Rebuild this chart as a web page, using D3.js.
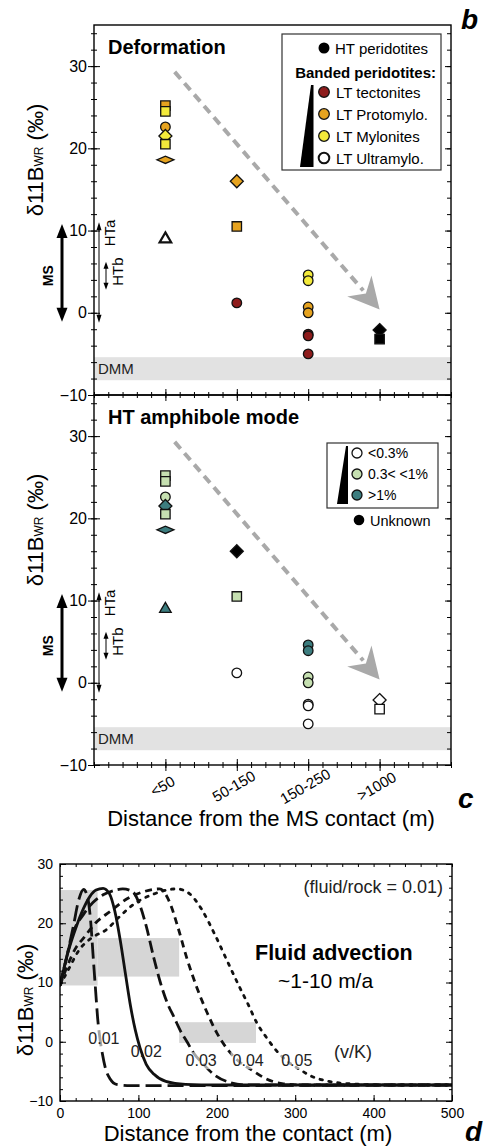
<!DOCTYPE html>
<html>
<head>
<meta charset="utf-8">
<script src="https://cdn.jsdelivr.net/npm/d3@7"></script>
<style>
  body { margin: 0; background: #fff; }
  svg { display: block; font-family: "Liberation Sans", Arial, Helvetica, sans-serif; }
</style>
</head>
<body>
<svg id="fig" width="488" height="1148"></svg>
<script>
// ---- data ----
const categories = ["<50", "50-150", "150-250", ">1000"];
const catPos = [1, 2, 3, 4];
const yTicks = [-10, 0, 10, 20, 30];

const deformNames = ["HT peridotites", "LT tectonites", "LT Protomylo.", "LT Mylonites", "LT Ultramylo."];
const deformColors = ["#000000", "#8e1c1c", "#e6a31f", "#f3ea3b", "#ffffff"];
const amphNames = ["<0.3%", "0.3< <1%", ">1%", "Unknown"];
const amphColors = ["#ffffff", "#c6e0b1", "#3c7d7f", "#000000"];

// one entry per sample (same samples in panels b and c)
const sampleCat    = [0, 0, 0, 0, 0, 0, 0, 1, 1, 1, 2, 2, 2, 2, 2, 2, 2, 3, 3];
const sampleD11B   = [25.2, 24.5, 22.6, 21.5, 20.5, 18.6, 9.1, 16.0, 10.5, 1.2, 4.6, 3.9, 0.7, 0.0, -2.6, -2.8, -5.0, -2.1, -3.2];
const sampleShape  = ["square", "square", "circle", "diamond", "square", "flat", "triangle",
                      "diamond", "square", "circle",
                      "circle", "circle", "circle", "circle", "circle", "circle", "circle",
                      "diamond", "square"];
const sampleDeform = [2, 3, 2, 3, 3, 2, 4, 2, 2, 1, 3, 3, 2, 2, 1, 1, 1, 0, 0];
const sampleAmph   = [1, 1, 1, 2, 1, 2, 2, 3, 1, 0, 2, 2, 1, 1, 0, 0, 0, 0, 0];

const dmmRange = [-8.2, -5.4];
const trendStart = [1.13, 29.3];
const trendEnd = [4.0, 0.4];
const msArrow = [-1.1, 10.8];
const htaArrow = [-1.2, 11.0];
const htbArrow = [2.8, 6.2];

// panel d: model curves (distance m, d11B)
const vkLabels = ["0.01", "0.02", "0.03", "0.04", "0.05"];
const curve001 = [[0, 9.5], [8, 14], [17, 19.5], [24, 24], [30, 25.7], [35, 24.5], [39, 20.5], [42.5, 14], [45.5, 8.5], [48, 4], [51, 0.5], [54, -2], [58, -4.5], [64, -6.3], [72, -7.2], [90, -7.4], [500, -7.3]];
const curve002 = [[0, 9.5], [10, 15], [21, 19.5], [30, 22.5], [38, 24.5], [46, 25.6], [55, 25.9], [63, 25], [70, 22], [77, 17], [84, 11], [90, 6], [96, 2], [102, -1], [110, -3.8], [120, -5.5], [135, -6.7], [160, -7.2], [200, -7.3], [500, -7.3]];
const curve003 = [[0, 9.5], [8, 14], [17, 18.5], [30, 21.5], [42, 23.5], [55, 24.8], [68, 25.5], [80, 25.8], [92, 25.4], [102, 23], [110, 19.5], [119, 14.5], [128, 10], [137, 6.5], [146, 4], [153, 2], [162, 0], [170, -1.8], [183, -3.8], [196, -5.5], [215, -6.8], [240, -7.3], [500, -7.3]];
const curve004 = [[0, 9.5], [10, 13], [20, 15.8], [30, 17.5], [45, 20], [64, 22], [85, 24.1], [106, 25.3], [127, 25.8], [140, 23.5], [150, 19.5], [162, 14], [175, 9], [188, 4.8], [200, 1.5], [212, -1], [228, -3.3], [245, -4.8], [262, -6.2], [285, -7.1], [310, -7.3], [500, -7.3]];
const curve005 = [[0, 9.5], [10, 12], [25, 15.6], [40, 17.5], [60, 19], [75, 21], [94, 23.2], [119, 24.9], [149, 25.8], [165, 25], [180, 22.5], [196, 18.5], [212, 14], [228, 9.5], [240, 6.3], [251, 3.2], [264, 0.6], [276, -1.5], [290, -3.3], [306, -4.7], [322, -5.9], [340, -6.6], [370, -7.1], [420, -7.3], [500, -7.3]];
const curves = [curve001, curve002, curve003, curve004, curve005];
const curveDash = ["16,6", null, "12,5", "7,5", "2.5,6.5"];
const labelPos = [[56, 0.6], [110, -1.5], [180, -3.1], [240, -3.1], [302, -3.1]];

const boxX0 = [0, 48, 152];
const boxX1 = [48, 152, 250];
const boxLow = [9.5, 11, -0.2];
const boxHigh = [25.6, 17.5, 3.3];

const svg = d3.select("#fig");
const minus = d => d < 0 ? "\u2212" + Math.abs(d) : String(d);

function shapePath(s) {
    switch (s) {
        case "circle": return "M4.8,0A4.8,4.8,0,1,1,-4.8,0A4.8,4.8,0,1,1,4.8,0Z";
        case "square": return "M-4.7,-4.7H4.7V4.7H-4.7Z";
        case "diamond": return "M0,-6.5L6.5,0L0,6.5L-6.5,0Z";
        case "flat": return "M-8.5,0L0,-3.6L8.5,0L0,3.6Z";
        case "triangle": return "M0,-5.6L5.8,4.4L-5.8,4.4Z";
    }
}

function ticks(parent, axisGen, scale, values, size, fmt, padding) {
    const a = axisGen(scale).tickValues(values).tickSize(size)
        .tickPadding(padding || 2).tickFormat(fmt || (() => ""));
    const g = parent.append("g").call(a);
    g.select(".domain").remove();
    g.attr("font-family", null).attr("font-size", null);
    return g;
}

function yLabel(bx, cy) {
    const t = svg.append("text")
        .attr("transform", `translate(${bx},${cy}) rotate(-90)`)
        .attr("text-anchor", "middle")
        .attr("font-size", 22);
    t.append("tspan").text("\u03B411B");
    t.append("tspan").attr("font-size", 12).text("WR");
    t.append("tspan").text(" (\u2030)");
}

function vArrow(x, y0, y1, shaft, headW, headL) {
    const g = svg.append("g").attr("fill", "#000").attr("stroke", "#000");
    g.append("line").attr("x1", x).attr("x2", x)
        .attr("y1", y1 + headL - 1).attr("y2", y0 - headL + 1)
        .attr("stroke-width", shaft);
    g.append("path").attr("stroke", "none")
        .attr("d", `M${x},${y1}L${x + headW / 2},${y1 + headL}L${x - headW / 2},${y1 + headL}Z`);
    g.append("path").attr("stroke", "none")
        .attr("d", `M${x},${y0}L${x + headW / 2},${y0 - headL}L${x - headW / 2},${y0 - headL}Z`);
}

// ---- panels b and c ----
function scatterPanel(top, bottom, colorOf, title, showCatLabels) {
    const x = d3.scaleLinear().domain([0, 5]).range([94, 451]);
    const y = d3.scaleLinear().domain([-10, 35]).range([bottom, top]);
    const g = svg.append("g");

    // DMM band
    g.append("rect")
        .attr("x", x(0)).attr("width", x(5) - x(0))
        .attr("y", y(dmmRange[1])).attr("height", y(dmmRange[0]) - y(dmmRange[1]))
        .attr("fill", "#e2e2e2");
    g.append("text").attr("x", 98).attr("y", y((dmmRange[0] + dmmRange[1]) / 2) + 5.5)
        .attr("font-size", 15).attr("fill", "#222").text("DMM");

    // trend arrow
    const p0 = [x(trendStart[0]), y(trendStart[1])], p1 = [x(trendEnd[0]), y(trendEnd[1])];
    const dx = p1[0] - p0[0], dy = p1[1] - p0[1], L = Math.hypot(dx, dy);
    const ux = dx / L, uy = dy / L;
    const headLen = 31, halfW = 16, notch = 21;
    const bx = p1[0] - ux * headLen, by = p1[1] - uy * headLen;
    const nx = p1[0] - ux * notch, ny = p1[1] - uy * notch;
    g.append("line")
        .attr("x1", p0[0]).attr("y1", p0[1]).attr("x2", nx - ux * 4).attr("y2", ny - uy * 4)
        .attr("stroke", "#a9a9a9").attr("stroke-width", 4).attr("stroke-dasharray", "9,6");
    g.append("path")
        .attr("d", `M${p1[0]},${p1[1]}L${bx - uy * halfW},${by + ux * halfW}L${nx},${ny}L${bx + uy * halfW},${by - ux * halfW}Z`)
        .attr("fill", "#a9a9a9");

    // points
    g.selectAll(".pt").data(sampleD11B).join("path")
        .attr("class", "pt")
        .attr("transform", (d, i) => `translate(${x(catPos[sampleCat[i]])},${y(d)})`)
        .attr("d", (d, i) => shapePath(sampleShape[i]))
        .attr("fill", (d, i) => colorOf(i))
        .attr("stroke", "#111")
        .attr("stroke-width", (d, i) => sampleShape[i] === "triangle" && colorOf(i) === "#ffffff" ? 2.2 : 1.3);

    // frame
    g.append("rect").attr("x", x(0)).attr("y", top).attr("width", x(5) - x(0)).attr("height", bottom - top)
        .attr("fill", "none").attr("stroke", "#000").attr("stroke-width", 1.4);

    // left axis: ticks crossing the line, labels outside
    const minorY = d3.range(-10, 35, 2);
    const left = g.append("g").attr("transform", `translate(${x(0)},0)`);
    ticks(left, d3.axisLeft, y, yTicks, 6, minus, 1)
        .attr("font-size", 16).selectAll("text").attr("fill", "#000");
    ticks(left, d3.axisRight, y, yTicks, 6);
    ticks(left, d3.axisLeft, y, minorY, 3);
    ticks(left, d3.axisRight, y, minorY, 3);
    const right = g.append("g").attr("transform", `translate(${x(5)},0)`);
    ticks(right, d3.axisLeft, y, yTicks, 6);
    ticks(right, d3.axisLeft, y, minorY, 4);

    // bottom axis
    const minorX = d3.range(0, 5.01, 0.2);
    const bot = g.append("g").attr("transform", `translate(0,${bottom})`);
    ticks(bot, d3.axisBottom, x, catPos, 6);
    ticks(bot, d3.axisTop, x, catPos, 6);
    ticks(bot, d3.axisBottom, x, minorX, 3);
    ticks(bot, d3.axisTop, x, minorX, 3);

    if (showCatLabels) {
        g.selectAll(".cat").data(categories).join("text")
            .attr("class", "cat")
            .attr("transform", (d, i) => `translate(${x(catPos[i]) - 3},${bottom + 21}) rotate(-30)`)
            .attr("text-anchor", "middle").attr("dominant-baseline", "central")
            .attr("font-size", 15).text(d => d);
    }

    // panel title
    g.append("text").attr("x", 108).attr("y", top + 29)
        .attr("font-size", 20).attr("font-weight", "bold").text(title);

    // MS / HTa / HTb annotations
    vArrow(62, y(msArrow[0]), y(msArrow[1]), 3, 11, 14);
    vArrow(99, y(htaArrow[0]), y(htaArrow[1]), 1, 5, 8);
    vArrow(106, y(htbArrow[0]), y(htbArrow[1]), 1, 5, 7);
    svg.append("text").attr("transform", `translate(53,${y(4.5)}) rotate(-90)`)
        .attr("text-anchor", "middle").attr("font-size", 14).attr("font-weight", "bold").text("MS");
    svg.append("text").attr("transform", `translate(115,${y(9.7)}) rotate(-90)`)
        .attr("text-anchor", "middle").attr("font-size", 15).text("HTa");
    svg.append("text").attr("transform", `translate(123,${y(5.0)}) rotate(-90)`)
        .attr("text-anchor", "middle").attr("font-size", 15).text("HTb");
    return {x, y};
}

scatterPanel(25, 395, i => deformColors[sampleDeform[i]], "Deformation", false);
scatterPanel(395, 765, i => amphColors[sampleAmph[i]], "HT amphibole mode", true);

yLabel(43, 160);
yLabel(43, 530);

svg.append("text").attr("x", 271).attr("y", 826).attr("text-anchor", "middle")
    .attr("font-size", 22).text("Distance from the MS contact (m)");

// ---- legend b ----
const legB = svg.append("g");
legB.append("rect").attr("x", 282).attr("y", 34).attr("width", 159).attr("height", 136)
    .attr("fill", "#fff").attr("stroke", "#333").attr("stroke-width", 1.2);
legB.append("circle").attr("cx", 324).attr("cy", 48).attr("r", 5.5).attr("fill", deformColors[0]);
legB.append("text").attr("x", 335).attr("y", 53.5).attr("font-size", 15).text(deformNames[0]);
legB.append("text").attr("x", 436).attr("y", 78).attr("text-anchor", "end")
    .attr("font-size", 15).attr("font-weight", "bold").text("Banded peridotites:");
legB.append("path").attr("d", "M311,85L313.5,85L313.5,167L300,167Z").attr("fill", "#000");
const legBy = [92, 114, 136, 158];
legBy.forEach((yy, k) => {
    legB.append("circle").attr("cx", 324).attr("cy", yy).attr("r", 5.3)
        .attr("fill", deformColors[k + 1]).attr("stroke", "#111").attr("stroke-width", k === 3 ? 2 : 1.3);
    legB.append("text").attr("x", 336).attr("y", yy + 5.5).attr("font-size", 15).text(deformNames[k + 1]);
});

// ---- legend c ----
const legC = svg.append("g");
legC.append("rect").attr("x", 327).attr("y", 443).attr("width", 111).attr("height", 65)
    .attr("fill", "#fff").attr("stroke", "#333").attr("stroke-width", 1.2);
legC.append("path").attr("d", "M346,446L348,446L348,504L337,504Z").attr("fill", "#000");
const legCy = [453, 474, 495];
legCy.forEach((yy, k) => {
    legC.append("circle").attr("cx", 357).attr("cy", yy).attr("r", 5)
        .attr("fill", amphColors[k]).attr("stroke", "#111").attr("stroke-width", 1.3);
    legC.append("text").attr("x", 368).attr("y", yy + 5).attr("font-size", 14).text(amphNames[k]);
});
legC.append("circle").attr("cx", 359).attr("cy", 520).attr("r", 5.3).attr("fill", amphColors[3]);
legC.append("text").attr("x", 370).attr("y", 525.5).attr("font-size", 14.5).text(amphNames[3]);

// panel letters
[["b", 461, 29], ["c", 458, 808], ["d", 465, 1141]].forEach(([t, px, py]) => {
    svg.append("text").attr("x", px).attr("y", py).attr("font-size", 28)
        .attr("font-weight", "bold").attr("font-style", "italic").text(t);
});

// ---- panel d ----
const xD = d3.scaleLinear().domain([0, 500]).range([60, 452]);
const yD = d3.scaleLinear().domain([-10, 30]).range([1101, 864]);
const gD = svg.append("g");

gD.selectAll(".box").data(boxX0).join("rect")
    .attr("class", "box")
    .attr("x", d => xD(d)).attr("width", (d, i) => xD(boxX1[i]) - xD(d))
    .attr("y", (d, i) => yD(boxHigh[i])).attr("height", (d, i) => yD(boxLow[i]) - yD(boxHigh[i]))
    .attr("fill", "#d6d6d6");

svg.append("defs").append("clipPath").attr("id", "clipD")
    .append("rect").attr("x", 60).attr("y", 864).attr("width", 392).attr("height", 237);

const line = d3.line().x(d => xD(d[0])).y(d => yD(d[1])).curve(d3.curveMonotoneX);
gD.append("g").attr("clip-path", "url(#clipD)")
    .selectAll("path").data(curves).join("path")
    .attr("d", line)
    .attr("fill", "none").attr("stroke", "#111").attr("stroke-width", 2.8)
    .attr("stroke-dasharray", (d, i) => curveDash[i])
    .attr("stroke-linecap", (d, i) => i === 4 ? "round" : "butt");

// v/K labels over translucent white
vkLabels.forEach((t, i) => {
    const tx = gD.append("text").attr("x", xD(labelPos[i][0])).attr("y", yD(labelPos[i][1]) + 6)
        .attr("text-anchor", "middle").attr("font-size", 16).attr("fill", "#222").text(t);
    const bb = tx.node().getBBox();
    if (i !== 1) {
        gD.insert("rect", () => tx.node())
            .attr("x", bb.x - 2).attr("y", bb.y).attr("width", bb.width + 4).attr("height", bb.height)
            .attr("fill", "#fff").attr("opacity", 0.62);
    }
});
gD.append("text").attr("x", 353).attr("y", 1058).attr("text-anchor", "middle")
    .attr("font-size", 18).attr("fill", "#222").text("(v/K)");
gD.append("text").attr("x", 443).attr("y", 893).attr("text-anchor", "end")
    .attr("font-size", 18).attr("fill", "#222").text("(fluid/rock = 0.01)");
gD.append("text").attr("x", 255).attr("y", 960)
    .attr("font-size", 21.5).attr("font-weight", "bold").text("Fluid advection");
gD.append("text").attr("x", 278).attr("y", 988)
    .attr("font-size", 21).text("~1-10 m/a");

gD.append("rect").attr("x", 60).attr("y", 864).attr("width", 392).attr("height", 237)
    .attr("fill", "none").attr("stroke", "#000").attr("stroke-width", 1.4);

const majorXD = d3.range(0, 501, 100), minorXD = d3.range(0, 501, 20);
const majorYD = [-10, 0, 10, 20, 30], minorYD = d3.range(-10, 31, 2);
const dl = gD.append("g").attr("transform", "translate(60,0)");
ticks(dl, d3.axisLeft, yD, majorYD, 0, minus, 7).attr("font-size", 14);
ticks(dl, d3.axisRight, yD, majorYD, 6);
ticks(dl, d3.axisRight, yD, minorYD, 3);
const dr = gD.append("g").attr("transform", "translate(452,0)");
ticks(dr, d3.axisLeft, yD, majorYD, 6);
ticks(dr, d3.axisLeft, yD, minorYD, 3);
const db = gD.append("g").attr("transform", "translate(0,1101)");
ticks(db, d3.axisBottom, xD, majorXD, 0, d => d, 7).attr("font-size", 14);
ticks(db, d3.axisTop, xD, majorXD, 6);
ticks(db, d3.axisTop, xD, minorXD, 3);
const dt = gD.append("g").attr("transform", "translate(0,864)");
ticks(dt, d3.axisBottom, xD, minorXD, 3);

yLabel(33, 1000);
svg.append("text").attr("x", 248).attr("y", 1141).attr("text-anchor", "middle")
    .attr("font-size", 22).text("Distance from the contact (m)");
</script>
</body>
</html>
